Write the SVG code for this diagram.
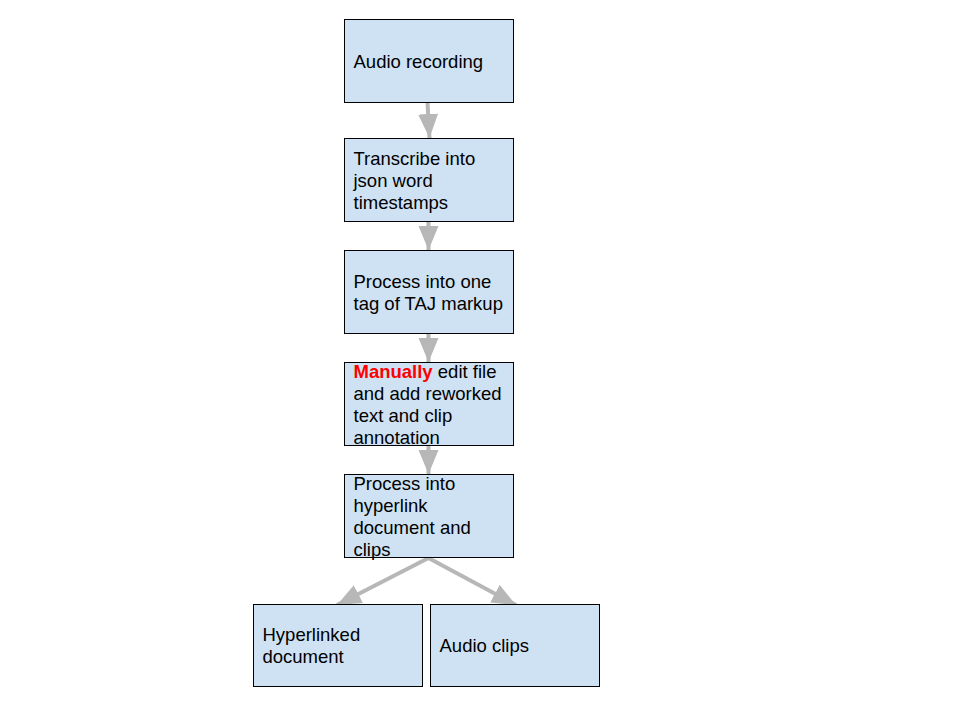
<svg xmlns="http://www.w3.org/2000/svg" width="960" height="720" viewBox="0 0 960 720">
<style>
.box{fill:#cfe2f3;stroke:#000;stroke-width:1}
.t{font-family:"Liberation Sans",Arial,sans-serif;font-size:18.5px;fill:#000}
.red{fill:#ff0000;font-weight:bold}
.c{stroke:#b7b7b7;stroke-width:4;fill:none}
</style>
<defs>
<marker id="ah" markerUnits="userSpaceOnUse" markerWidth="26" markerHeight="24" viewBox="0 0 26 24" refX="24" refY="12" orient="auto">
<path d="M0,2 L24,12 L0,22 Z" fill="#b7b7b7"/>
</marker>
</defs>
<rect width="960" height="720" fill="#fff"/>
<g id="connectors">
<line class="c" x1="427.5" y1="103" x2="429.5" y2="138" marker-end="url(#ah)"/>
<line class="c" x1="428.5" y1="222" x2="428.5" y2="250" marker-end="url(#ah)"/>
<line class="c" x1="428.5" y1="334" x2="428.5" y2="362" marker-end="url(#ah)"/>
<line class="c" x1="428.5" y1="446" x2="428.5" y2="474" marker-end="url(#ah)"/>
<line class="c" x1="428.5" y1="558" x2="337" y2="605" marker-end="url(#ah)"/>
<line class="c" x1="428.5" y1="558" x2="516" y2="605" marker-end="url(#ah)"/>
</g>
<g id="n1">
<rect class="box" x="344.5" y="19.5" width="169" height="83"/>
<text class="t" x="353.5" y="68">Audio recording</text>
</g>
<g id="n2">
<rect class="box" x="344.5" y="138.5" width="169" height="83"/>
<text class="t" x="353.5" y="165">Transcribe into</text>
<text class="t" x="353.5" y="187">json word</text>
<text class="t" x="353.5" y="209">timestamps</text>
</g>
<g id="n3">
<rect class="box" x="344.5" y="250.5" width="169" height="83"/>
<text class="t" x="353.5" y="288">Process into one</text>
<text class="t" x="353.5" y="310">tag of TAJ markup</text>
</g>
<g id="n4">
<rect class="box" x="344.5" y="362.5" width="169" height="83"/>
<text class="t" x="353.5" y="378"><tspan class="red">Manually</tspan> edit file</text>
<text class="t" x="353.5" y="400">and add reworked</text>
<text class="t" x="353.5" y="422">text and clip</text>
<text class="t" x="353.5" y="444">annotation</text>
</g>
<g id="n5">
<rect class="box" x="344.5" y="474.5" width="169" height="83"/>
<text class="t" x="353.5" y="490">Process into</text>
<text class="t" x="353.5" y="512">hyperlink</text>
<text class="t" x="353.5" y="534">document and</text>
<text class="t" x="353.5" y="556">clips</text>
</g>
<g id="n6">
<rect class="box" x="253.5" y="604.5" width="169" height="82"/>
<text class="t" x="262.5" y="641">Hyperlinked</text>
<text class="t" x="262.5" y="663">document</text>
</g>
<g id="n7">
<rect class="box" x="430.5" y="604.5" width="169" height="82"/>
<text class="t" x="439.5" y="652">Audio clips</text>
</g>
</svg>
